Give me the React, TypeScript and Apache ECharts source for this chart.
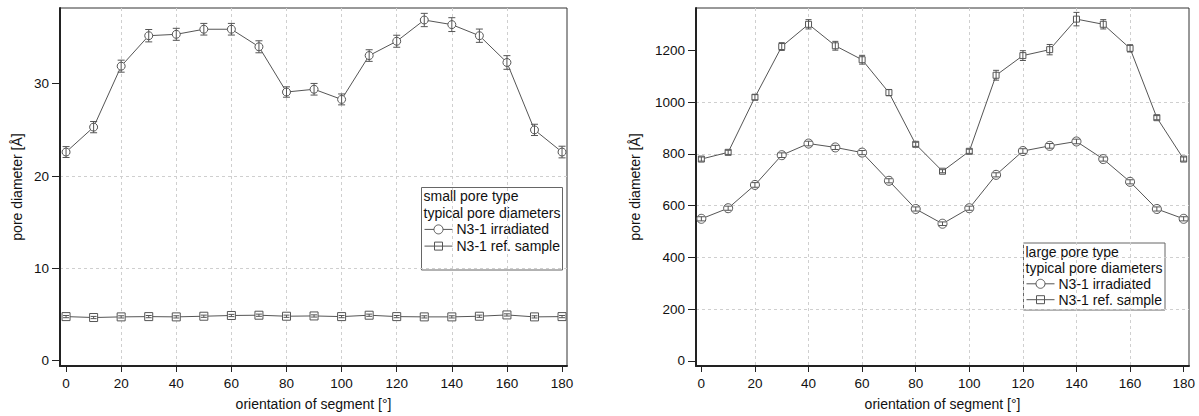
import React, { useEffect, useRef } from "react";
import * as echarts from "echarts";

const angles = [0, 10, 20, 30, 40, 50, 60, 70, 80, 90, 100, 110, 120, 130, 140, 150, 160, 170, 180];
const xTicks = [0, 20, 40, 60, 80, 100, 120, 140, 160, 180];

// small pore type
const smallIrr = [22.6, 25.3, 31.9, 35.2, 35.35, 35.9, 35.9, 34.0, 29.1, 29.4, 28.3, 33.05, 34.6, 36.9, 36.4, 35.2, 32.3, 25.0, 22.6];
const smallIrrErr = [0.59, 0.61, 0.65, 0.67, 0.65, 0.63, 0.63, 0.65, 0.56, 0.63, 0.59, 0.63, 0.65, 0.72, 0.75, 0.72, 0.74, 0.61, 0.63];
const smallRef = [4.78, 4.68, 4.75, 4.78, 4.75, 4.82, 4.9, 4.93, 4.82, 4.85, 4.78, 4.93, 4.78, 4.75, 4.75, 4.82, 4.96, 4.75, 4.78];
const smallRefErr = [0.12, 0.12, 0.12, 0.12, 0.12, 0.12, 0.12, 0.12, 0.12, 0.12, 0.12, 0.12, 0.12, 0.12, 0.12, 0.12, 0.12, 0.12, 0.12];
const smallYTicks = [0, 10, 20, 30];

// large pore type
const largeIrr = [549, 590, 680, 795, 840, 825, 805, 696, 587, 530, 590, 719, 811, 831, 848, 780, 692, 587, 549];
const largeIrrErr = [8, 8, 9, 9, 9, 8, 8, 8, 8, 7, 8, 8, 9, 9, 9, 8, 8, 8, 8];
const largeRef = [780, 806, 1019, 1215, 1301, 1218, 1164, 1037, 837, 733, 810, 1104, 1180, 1203, 1321, 1301, 1208, 940, 780];
const largeRefErr = [8, 8, 10, 15, 18, 17, 17, 12, 8, 6, 8, 19, 19, 20, 26, 18, 14, 8, 8];
const largeYTicks = [0, 200, 400, 600, 800, 1000, 1200];

const seriesNames = ["N3-1 irradiated", "N3-1 ref. sample"];
const legendTitles = [
  ["small pore type", "typical pore diameters"],
  ["large pore type", "typical pore diameters"],
];

const FONT = "Liberation Sans, Arial, sans-serif";
const INK = "#555";

export default function App() {
  const ref = useRef<HTMLDivElement>(null);

  useEffect(() => {
    document.body.style.margin = "0";
    const chart = echarts.init(ref.current!, null, { renderer: "svg" });

    const grids = [
      { left: 60, top: 8, width: 507, height: 360 },
      { left: 696, top: 8, width: 493, height: 360 },
    ];
    const xRanges = [
      [-2.2, 181.8],
      [-2, 182],
    ];
    const yRanges = [
      [-0.57, 38.2],
      [-20, 1364],
    ];
    const yIntervals = [10, 200];
    const yTicksList = [smallYTicks, largeYTicks];
    const yNameGaps = [36, 54];

    const xAxis = grids.map((_, i) => ({
      type: "value",
      gridIndex: i,
      min: xRanges[i][0],
      max: xRanges[i][1],
      minInterval: 20,
      maxInterval: 20,
      name: "orientation of segment [°]",
      nameLocation: "middle",
      nameGap: 31,
      nameTextStyle: { fontFamily: FONT, fontSize: 14, color: "#111" },
      axisLine: { show: true, onZero: false, lineStyle: { color: "#222", width: 2 } },
      axisTick: { show: true, customValues: xTicks, length: 6, lineStyle: { color: "#222", width: 1 } },
      axisLabel: {
        customValues: xTicks,
        fontFamily: FONT,
        fontSize: 13.5,
        color: "#111",
        margin: 10,
        formatter: (v: number) => String(v),
      },
      splitLine: {
        show: true,
        showMinLine: false,
        showMaxLine: false,
        lineStyle: { color: "#cfcfcf", type: [3, 3], width: 1 },
      },
    }));

    const yAxis = grids.map((_, i) => ({
      type: "value",
      gridIndex: i,
      min: yRanges[i][0],
      max: yRanges[i][1],
      minInterval: yIntervals[i],
      maxInterval: yIntervals[i],
      name: "pore diameter [Å]",
      nameLocation: "middle",
      nameGap: yNameGaps[i],
      nameTextStyle: { fontFamily: FONT, fontSize: 14, color: "#111" },
      axisLine: { show: true, onZero: false, lineStyle: { color: "#222", width: 2 } },
      axisTick: { show: true, customValues: yTicksList[i], length: 8, lineStyle: { color: "#222", width: 1 } },
      axisLabel: {
        customValues: yTicksList[i],
        fontFamily: FONT,
        fontSize: 13.5,
        color: "#111",
        margin: 11,
        formatter: (v: number) => String(v),
      },
      splitLine: {
        show: true,
        showMinLine: false,
        showMaxLine: false,
        lineStyle: { color: "#cfcfcf", type: [3, 3], width: 1 },
      },
    }));

    const errorSeries = (idx: number, vals: number[], errs: number[], capHalf: number) => ({
      type: "custom",
      xAxisIndex: idx,
      yAxisIndex: idx,
      z: 5,
      silent: true,
      encode: { x: 0, y: [1, 2] },
      data: angles.map((a, i) => [a, vals[i] - errs[i], vals[i] + errs[i]]),
      renderItem: (params: any, api: any) => {
        const x = api.value(0);
        const p1 = api.coord([x, api.value(1)]);
        const p2 = api.coord([x, api.value(2)]);
        const st = { stroke: INK, lineWidth: 1 };
        return {
          type: "group",
          children: [
            { type: "line", shape: { x1: p1[0], y1: p1[1], x2: p2[0], y2: p2[1] }, style: st },
            { type: "line", shape: { x1: p1[0] - capHalf, y1: p1[1], x2: p1[0] + capHalf, y2: p1[1] }, style: st },
            { type: "line", shape: { x1: p2[0] - capHalf, y1: p2[1], x2: p2[0] + capHalf, y2: p2[1] }, style: st },
          ],
        };
      },
    });

    const lineSeries = (idx: number, name: string, vals: number[], symbol: string, size: number) => ({
      type: "line",
      name,
      xAxisIndex: idx,
      yAxisIndex: idx,
      z: 3,
      symbol,
      symbolSize: size,
      showAllSymbol: true,
      data: angles.map((a, i) => [a, vals[i]]),
      lineStyle: { color: INK, width: 1 },
      itemStyle: { color: "#fff", borderColor: INK, borderWidth: 1 },
      emphasis: { disabled: true },
    });

    const legendBox = (
      x: number,
      y: number,
      w: number,
      h: number,
      titles: string[],
      firstCenter: number,
      lineH: number
    ) => {
      const children: any[] = [
        {
          type: "rect",
          shape: { x, y, width: w, height: h },
          style: { fill: "#fff", stroke: "#666", lineWidth: 1 },
        },
      ];
      titles.forEach((t, k) => {
        children.push({
          type: "text",
          x: x + 2,
          y: firstCenter + k * lineH,
          style: { text: t, font: `14px ${FONT}`, fill: "#111", verticalAlign: "middle", align: "left" },
        });
      });
      seriesNames.forEach((nm, k) => {
        const by = firstCenter + (k + 2) * lineH;
        children.push({
          type: "line",
          shape: { x1: x + 3, y1: by, x2: x + 31, y2: by },
          style: { stroke: INK, lineWidth: 1 },
        });
        if (k === 0) {
          children.push({
            type: "circle",
            shape: { cx: x + 17, cy: by, r: 4.5 },
            style: { fill: "#fff", stroke: INK, lineWidth: 1 },
          });
        } else {
          children.push({
            type: "rect",
            shape: { x: x + 13, y: by - 4, width: 8, height: 8 },
            style: { fill: "#fff", stroke: INK, lineWidth: 1 },
          });
          children.push({
            type: "line",
            shape: { x1: x + 13, y1: by, x2: x + 21, y2: by },
            style: { stroke: INK, lineWidth: 1 },
          });
        }
        children.push({
          type: "text",
          x: x + 35,
          y: by,
          style: { text: nm, font: `14px ${FONT}`, fill: "#111", verticalAlign: "middle", align: "left" },
        });
      });
      return { type: "group", z: 100, children };
    };

    chart.setOption({
      animation: false,
      backgroundColor: "#fff",
      textStyle: { fontFamily: FONT },
      grid: grids.map((g) => ({
        ...g,
        show: true,
        borderColor: "#333",
        borderWidth: 1,
        backgroundColor: "transparent",
        containLabel: false,
      })),
      xAxis,
      yAxis,
      series: [
        lineSeries(0, seriesNames[0], smallIrr, "circle", 8),
        lineSeries(0, seriesNames[1], smallRef, "rect", 8),
        errorSeries(0, smallIrr, smallIrrErr, 3.5),
        errorSeries(0, smallRef, smallRefErr, 3),
        lineSeries(1, seriesNames[0], largeIrr, "circle", 9),
        lineSeries(1, seriesNames[1], largeRef, "rect", 6),
        errorSeries(1, largeIrr, largeIrrErr, 3.5),
        errorSeries(1, largeRef, largeRefErr, 3),
      ],
      graphic: [
        legendBox(421.5, 187.5, 141, 82.5, legendTitles[0], 196, 16.7),
        legendBox(1023.5, 243, 141.5, 67, legendTitles[1], 252, 15.9),
      ],
    });

    return () => {
      chart.dispose();
    };
  }, []);

  return <div ref={ref} style={{ width: 1199, height: 416 }} />;
}
